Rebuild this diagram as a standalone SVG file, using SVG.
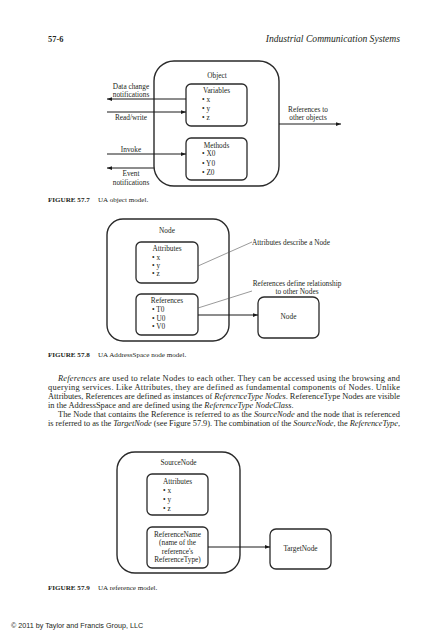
<svg xmlns="http://www.w3.org/2000/svg" width="448" height="640" viewBox="0 0 448 640">
<defs>
<marker id="arr" viewBox="0 0 8 6" refX="8" refY="3" markerWidth="5" markerHeight="3.8" markerUnits="userSpaceOnUse" orient="auto"><path d="M0,0 L8,3 L0,6 z" fill="#1a1a1a"/></marker>
<style>
text{font-family:"Liberation Serif","Times New Roman",serif;fill:#231f20}
.lbl{font-size:7.3px}
.c{text-anchor:middle}
.outer{fill:none;stroke:#2a2a2a;stroke-width:1.4}
.inner{fill:none;stroke:#2a2a2a;stroke-width:1.3}
.arrow{stroke:#1a1a1a;stroke-width:1;fill:none;marker-end:url(#arr)}
.lead{stroke:#555;stroke-width:0.6;fill:none}
.cap{font-size:7.1px}
.capb{font-weight:bold}
.body{font-size:8.4px}
.it{font-style:italic}
.foot{font-family:"Liberation Sans",Arial,sans-serif;font-size:7.2px}
</style>
</defs>
<rect width="448" height="640" fill="#fff"/>

<g id="header">
<text x="48" y="42" font-weight="bold" font-size="8.4">57-6</text>
<text x="400" y="42" font-style="italic" font-size="9.6" text-anchor="end">Industrial Communication Systems</text>
</g>

<!-- Figure 57.7 -->
<g id="object">
<rect class="outer" x="154" y="61" width="125" height="125" rx="20"/>
<text class="lbl c" x="217" y="77.5">Object</text>
</g>
<g id="variables">
<rect class="inner" x="186" y="84" width="61" height="42" rx="5"/>
<text class="lbl c" x="216.5" y="93">Variables</text>
<text class="lbl" x="202" y="102">• x</text>
<text class="lbl" x="202" y="111">• y</text>
<text class="lbl" x="202" y="120">• z</text>
</g>
<g id="methods">
<rect class="inner" x="186" y="138" width="61" height="42" rx="5"/>
<text class="lbl c" x="216.5" y="147.5">Methods</text>
<text class="lbl" x="202" y="156">• X0</text>
<text class="lbl" x="202" y="165.5">• Y0</text>
<text class="lbl" x="202" y="174.5">• Z0</text>
</g>
<g id="connectors-57-7">
<line class="arrow" x1="186" y1="99" x2="107" y2="99"/>
<line class="arrow" x1="107" y1="112" x2="186" y2="112"/>
<line class="arrow" x1="107" y1="154" x2="186" y2="154"/>
<line class="arrow" x1="154" y1="168" x2="107" y2="168"/>
<line class="arrow" x1="279" y1="124" x2="341" y2="124"/>
<text class="lbl c" x="131" y="88.5">Data change</text>
<text class="lbl c" x="131" y="96.5">notifications</text>
<text class="lbl c" x="131" y="120">Read/write</text>
<text class="lbl c" x="131" y="152">Invoke</text>
<text class="lbl c" x="131" y="175.5">Event</text>
<text class="lbl c" x="131" y="184.5">notifications</text>
<text class="lbl c" x="308" y="111.5">References to</text>
<text class="lbl c" x="308" y="120">other objects</text>
</g>
<g id="caption-57-7">
<text class="cap capb" x="48" y="201.5">FIGURE 57.7</text>
<text class="cap" x="98" y="201.5">UA object model.</text>
</g>

<!-- Figure 57.8 -->
<g id="node">
<rect class="outer" x="107" y="219" width="122" height="122" rx="16"/>
<text class="lbl c" x="167" y="232.5">Node</text>
</g>
<g id="attributes">
<rect class="inner" x="136" y="242" width="62" height="41" rx="5"/>
<text class="lbl c" x="167" y="250.5">Attributes</text>
<text class="lbl" x="152" y="259.5">• x</text>
<text class="lbl" x="152" y="267.5">• y</text>
<text class="lbl" x="152" y="275.5">• z</text>
</g>
<g id="references">
<rect class="inner" x="136" y="294" width="62" height="41" rx="5"/>
<text class="lbl c" x="167" y="302.5">References</text>
<text class="lbl" x="152" y="311.5">• T0</text>
<text class="lbl" x="152" y="320.5">• U0</text>
<text class="lbl" x="152" y="329">• V0</text>
</g>
<g id="other-node">
<rect class="inner" x="258" y="297" width="61" height="41" rx="6"/>
<text class="lbl c" x="288.5" y="318.5">Node</text>
</g>
<g id="connectors-57-8">
<line class="arrow" x1="198" y1="315" x2="258" y2="315"/>
<line class="lead" x1="198" y1="266" x2="252" y2="242"/>
<line class="lead" x1="198" y1="308" x2="252" y2="291"/>
<text class="lbl" x="252" y="244.5">Attributes describe a Node</text>
<text class="lbl c" x="297" y="285.5">References define relationship</text>
<text class="lbl c" x="297" y="294">to other Nodes</text>
</g>
<g id="caption-57-8">
<text class="cap capb" x="48" y="356.5">FIGURE 57.8</text>
<text class="cap" x="98" y="356.5">UA AddressSpace node model.</text>
</g>

<!-- Body text -->
<g id="paragraph">
<text class="body" x="58" y="381" textLength="342" lengthAdjust="spacing"><tspan class="it">References</tspan> are used to relate Nodes to each other. They can be accessed using the browsing and</text>
<text class="body" x="48" y="390" textLength="352" lengthAdjust="spacing">querying services. Like Attributes, they are defined as fundamental components of Nodes. Unlike</text>
<text class="body" x="48" y="399" textLength="352" lengthAdjust="spacing">Attributes, References are defined as instances of <tspan class="it">ReferenceType Nodes</tspan>. ReferenceType Nodes are visible</text>
<text class="body" x="48" y="408">in the AddressSpace and are defined using the <tspan class="it">ReferenceType NodeClass</tspan>.</text>
<text class="body" x="58" y="417" textLength="342" lengthAdjust="spacing">The Node that contains the Reference is referred to as the <tspan class="it">SourceNode</tspan> and the node that is referenced</text>
<text class="body" x="48" y="426" textLength="352" lengthAdjust="spacing">is referred to as the <tspan class="it">TargetNode</tspan> (see Figure 57.9). The combination of the <tspan class="it">SourceNode</tspan>, the <tspan class="it">ReferenceType</tspan>,</text>
</g>

<!-- Figure 57.9 -->
<g id="sourcenode">
<rect class="outer" x="117" y="452" width="123" height="121" rx="18"/>
<text class="lbl c" x="178.5" y="465">SourceNode</text>
</g>
<g id="sn-attributes">
<rect class="inner" x="147" y="474" width="61" height="41" rx="5"/>
<text class="lbl c" x="177.5" y="484">Attributes</text>
<text class="lbl" x="163" y="493">• x</text>
<text class="lbl" x="163" y="502">• y</text>
<text class="lbl" x="163" y="511">• z</text>
</g>
<g id="referencename">
<rect class="inner" x="147" y="527" width="61" height="41" rx="5"/>
<text class="lbl c" x="177.5" y="536.5">ReferenceName</text>
<text class="lbl c" x="177.5" y="545">(name of the</text>
<text class="lbl c" x="177.5" y="553.5">reference's</text>
<text class="lbl c" x="177.5" y="562">ReferenceType)</text>
</g>
<g id="targetnode">
<rect class="inner" x="270" y="529" width="61" height="40" rx="6"/>
<text class="lbl c" x="300.5" y="551">TargetNode</text>
</g>
<g id="connectors-57-9">
<line class="arrow" x1="208" y1="547" x2="270" y2="547"/>
</g>
<g id="caption-57-9">
<text class="cap capb" x="48" y="590">FIGURE 57.9</text>
<text class="cap" x="98" y="590">UA reference model.</text>
</g>

<g id="footer">
<text class="foot" x="11" y="627.5">© 2011 by Taylor and Francis Group, LLC</text>
</g>
</svg>
